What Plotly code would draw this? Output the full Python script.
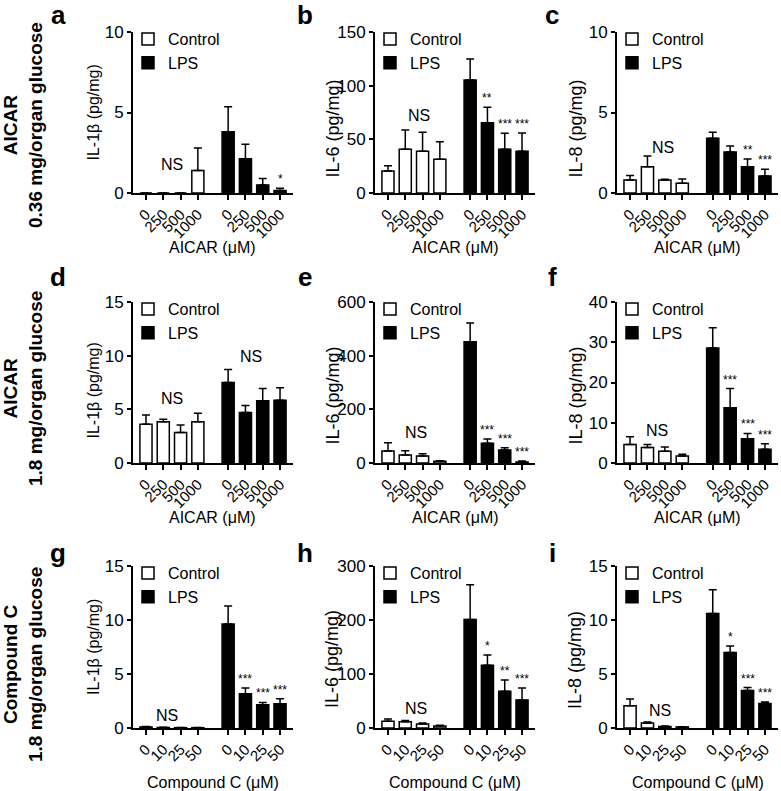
import plotly.graph_objects as go

W, H = 781, 791

# ---------------- data ----------------
aicar_ticks = ["0", "250", "500", "1000"]
cc_ticks = ["0", "10", "25", "50"]

# panel a: IL-1b, AICAR, 0.36 mg/organ glucose
a_ctrl = [0.0, 0.0, 0.0, 1.4]
a_ctrl_err = [0.0, 0.0, 0.0, 1.4]
a_lps = [3.8, 2.13, 0.5, 0.15]
a_lps_err = [1.55, 0.9, 0.4, 0.15]
a_sig = ["", "", "", "*"]

# panel b: IL-6
b_ctrl = [20.5, 40.7, 39.0, 31.4]
b_ctrl_err = [5.0, 18.0, 17.5, 16.4]
b_lps = [105.3, 65.5, 40.7, 39.0]
b_lps_err = [19.6, 14.4, 15.0, 17.0]
b_sig = ["", "**", "***", "***"]

# panel c: IL-8
c_ctrl = [0.81, 1.63, 0.81, 0.6]
c_ctrl_err = [0.27, 0.67, 0.05, 0.27]
c_lps = [3.4, 2.55, 1.63, 1.06]
c_lps_err = [0.37, 0.37, 0.48, 0.41]
c_sig = ["", "", "**", "***"]

# panel d: IL-1b, AICAR, 1.8 mg/organ glucose
d_ctrl = [3.6, 3.85, 2.83, 3.85]
d_ctrl_err = [0.87, 0.22, 0.71, 0.78]
d_lps = [7.5, 4.7, 5.8, 5.85]
d_lps_err = [1.2, 0.65, 1.15, 1.15]
d_sig = ["", "", "", ""]

# panel e: IL-6
e_ctrl = [44.7, 29.8, 26.0, 6.3]
e_ctrl_err = [31.0, 16.0, 8.7, 2.4]
e_lps = [452.0, 73.4, 48.5, 3.7]
e_lps_err = [70.0, 16.0, 8.5, 3.8]
e_sig = ["", "***", "***", "***"]

# panel f: IL-8
f_ctrl = [4.6, 3.85, 2.9, 1.75]
f_ctrl_err = [1.9, 0.75, 1.1, 0.45]
f_lps = [28.6, 13.7, 6.05, 3.4]
f_lps_err = [5.0, 4.8, 1.3, 1.4]
f_sig = ["", "***", "***", "***"]

# panel g: IL-1b, Compound C, 1.8 mg/organ glucose
g_ctrl = [0.1, 0.05, 0.03, 0.03]
g_ctrl_err = [0.05, 0.02, 0.01, 0.01]
g_lps = [9.63, 3.17, 2.15, 2.25]
g_lps_err = [1.67, 0.53, 0.22, 0.45]
g_sig = ["", "***", "***", "***"]

# panel h: IL-6
h_ctrl = [12.3, 11.7, 7.4, 3.7]
h_ctrl_err = [4.3, 2.4, 1.8, 1.2]
h_lps = [201.0, 116.0, 68.0, 52.0]
h_lps_err = [64.5, 19.0, 21.0, 22.0]
h_sig = ["", "*", "**", "***"]

# panel i: IL-8
i_ctrl = [2.06, 0.46, 0.15, 0.1]
i_ctrl_err = [0.62, 0.09, 0.03, 0.02]
i_lps = [10.6, 7.0, 3.48, 2.28]
i_lps_err = [2.2, 0.6, 0.27, 0.12]
i_sig = ["", "*", "***", "***"]

y_titles = ["IL-1β (pg/mg)", "IL-6 (pg/mg)", "IL-8 (pg/mg)"]
x_titles = ["AICAR (μM)", "AICAR (μM)", "Compound C (μM)"]
row_titles = ["AICAR<br>0.36 mg/organ glucose",
              "AICAR<br>1.8 mg/organ glucose",
              "Compound C<br>1.8 mg/organ glucose"]
panel_letters = ["a", "b", "c", "d", "e", "f", "g", "h", "i"]
y_max = [10, 150, 10, 15, 600, 40, 15, 300, 15]
y_step = [5, 50, 5, 5, 200, 10, 5, 100, 5]

panels = [
    (a_ctrl, a_ctrl_err, a_lps, a_lps_err, a_sig),
    (b_ctrl, b_ctrl_err, b_lps, b_lps_err, b_sig),
    (c_ctrl, c_ctrl_err, c_lps, c_lps_err, c_sig),
    (d_ctrl, d_ctrl_err, d_lps, d_lps_err, d_sig),
    (e_ctrl, e_ctrl_err, e_lps, e_lps_err, e_sig),
    (f_ctrl, f_ctrl_err, f_lps, f_lps_err, f_sig),
    (g_ctrl, g_ctrl_err, g_lps, g_lps_err, g_sig),
    (h_ctrl, h_ctrl_err, h_lps, h_lps_err, h_sig),
    (i_ctrl, i_ctrl_err, i_lps, i_lps_err, i_sig),
]

# "NS" label placement (data coords) per panel: list of (x, y)
ns_marks = [
    [(1.5, 1.75)], [(1.8, 72)], [(1.9, 2.85)],
    [(1.5, 6.0), (6.1, 9.9)], [(1.6, 115)], [(1.55, 8.2)],
    [(1.2, 1.2)], [(1.6, 36)], [(1.7, 1.65)],
]

# ---------------- layout geometry (pixels) ----------------
FONT = "Arial, Liberation Sans, sans-serif"
col_x0 = [133, 375, 617]
col_x1 = [293, 535, 778]
row_y0 = [32, 302, 566]
row_y1 = [193, 463, 728]
ytitle_x = [93, 332, 575]
ytitle_yoff = [[0, 16, 16], [8, 13, 13], [0, 12, 13]]
letter_x = [58, 305, 552]
letter_y = [15, 277, 553]
row_title_y = [125, 389, 665]

ctrl_pos = [0, 1, 2, 3]
lps_pos = [4.75, 5.75, 6.75, 7.75]

fig = go.Figure()
layout = dict(
    width=W, height=H, margin=dict(l=0, r=0, t=0, b=0, autoexpand=False),
    paper_bgcolor="white", plot_bgcolor="white",
    barmode="overlay", font=dict(family=FONT, color="black"),
    annotations=[],
)


def px(xp):
    return xp / W


def py(yp):
    return 1 - yp / H


for k, (ctrl, ctrl_err, lps, lps_err, sig) in enumerate(panels):
    r, c = divmod(k, 3)
    n = k + 1
    xa = "x" if n == 1 else f"x{n}"
    ya = "y" if n == 1 else f"y{n}"
    lg = "legend" if n == 1 else f"legend{n}"
    ticks = aicar_ticks if r < 2 else cc_ticks

    fig.add_trace(go.Bar(
        x=ctrl_pos, y=ctrl, width=0.7, name="Control",
        marker=dict(color="white", line=dict(color="black", width=1.5)),
        error_y=dict(type="data", array=ctrl_err, arrayminus=[0] * 4,
                     symmetric=False, color="black", thickness=1.5, width=4),
        xaxis=xa, yaxis=ya, legend=lg,
    ))
    fig.add_trace(go.Bar(
        x=lps_pos, y=lps, width=0.7, name="LPS",
        marker=dict(color="black", line=dict(color="black", width=1.5)),
        error_y=dict(type="data", array=lps_err, arrayminus=[0] * 4,
                     symmetric=False, color="black", thickness=1.5, width=4),
        xaxis=xa, yaxis=ya, legend=lg,
    ))

    layout["xaxis" if n == 1 else f"xaxis{n}"] = dict(
        domain=[px(col_x0[c]), px(col_x1[c])], anchor=ya,
        range=[-0.75, 8.5], tickmode="array",
        tickvals=ctrl_pos + lps_pos, ticktext=ticks + ticks,
        tickangle=-45, ticks="outside", ticklen=5, tickwidth=1.5,
        tickcolor="black", showline=True, linewidth=1.5, linecolor="black",
        showgrid=False, zeroline=False, tickfont=dict(size=15, family=FONT),
        fixedrange=True, automargin=False,
    )
    layout["yaxis" if n == 1 else f"yaxis{n}"] = dict(
        domain=[py(row_y1[r]), py(row_y0[r])], anchor=xa,
        range=[0, y_max[k]], tickmode="linear", tick0=0, dtick=y_step[k],
        ticks="outside", ticklen=4, tickwidth=1.5, tickcolor="black",
        showline=True, linewidth=1.8, linecolor="black",
        showgrid=False, zeroline=False, tickfont=dict(size=17, family=FONT),
        fixedrange=True, automargin=False,
    )
    layout[lg] = dict(
        x=px(col_x0[c] - 5), y=py(row_y0[r] - 10), xanchor="left", yanchor="top",
        bgcolor="rgba(0,0,0,0)", font=dict(size=16, family=FONT),
        tracegroupgap=0, itemclick=False, itemdoubleclick=False,
    )

    # significance marks above LPS bars
    for pos, v, e, s in zip(lps_pos, lps, lps_err, sig):
        if s:
            layout["annotations"].append(dict(
                x=pos, y=v + e, xref=xa, yref=ya, text=s, showarrow=False,
                yanchor="bottom", yshift=0,
                font=dict(size=12, family=FONT, color="black"),
            ))
    for (nx, ny) in ns_marks[k]:
        layout["annotations"].append(dict(
            x=nx, y=ny, xref=xa, yref=ya, text="NS", showarrow=False,
            yanchor="middle", font=dict(size=16, family=FONT),
        ))

    # y title
    cy = (row_y0[r] + row_y1[r]) / 2 + ytitle_yoff[r][c]
    layout["annotations"].append(dict(
        x=px(ytitle_x[c]), y=py(cy), xref="paper", yref="paper",
        text=y_titles[c], textangle=-90, showarrow=False,
        xanchor="center", yanchor="middle",
        font=dict(size=16 if c == 0 else 18, family=FONT),
    ))
    # x title
    layout["annotations"].append(dict(
        x=px((col_x0[c] + col_x1[c]) / 2), y=py(row_y1[r] + 54),
        xref="paper", yref="paper", text=x_titles[r], showarrow=False,
        xanchor="center", yanchor="middle", font=dict(size=16, family=FONT),
    ))
    # panel letter
    layout["annotations"].append(dict(
        x=px(letter_x[c]), y=py(letter_y[r]), xref="paper", yref="paper",
        text=f"<b>{panel_letters[k]}</b>", showarrow=False,
        xanchor="center", yanchor="middle", font=dict(size=26, family=FONT),
    ))

for r in range(3):
    layout["annotations"].append(dict(
        x=px(23), y=py(row_title_y[r]), xref="paper", yref="paper",
        text=f"<b>{row_titles[r]}</b>", textangle=-90, showarrow=False,
        xanchor="center", yanchor="middle", font=dict(size=19, family=FONT),
    ))

fig.update_layout(**layout)
fig.write_html(
    "out.html",
    config={"displayModeBar": False},
    post_script="document.body.style.margin='0';"
                "document.documentElement.style.overflow='hidden';"
                "document.body.style.overflow='hidden';",
)
